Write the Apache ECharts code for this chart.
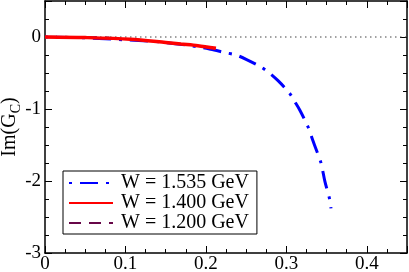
<!DOCTYPE html>
<html><head><meta charset="utf-8">
<script src="https://cdn.jsdelivr.net/npm/echarts@6/dist/echarts.min.js"></script>
<style>html,body{margin:0;padding:0;background:#fff}#c{width:409px;height:272px}</style>
</head><body><div id="c"></div>
<script>
var seriesNames = ['W = 1.535 GeV', 'W = 1.400 GeV', 'W = 1.200 GeV'];
var xW1535 = [0, 0.05, 0.1, 0.144, 0.19, 0.206, 0.225, 0.2375, 0.25, 0.269, 0.279, 0.29, 0.304, 0.31, 0.317, 0.327, 0.331, 0.335, 0.343, 0.348, 0.354, 0.3555];
var yW1535 = [0, -0.012, -0.04, -0.07, -0.135, -0.17, -0.22, -0.25, -0.31, -0.42, -0.5, -0.61, -0.78, -0.89, -1.02, -1.25, -1.375, -1.5, -1.745, -2.01, -2.26, -2.38];
var xW1400 = [0, 0.05, 0.106, 0.15, 0.169, 0.19, 0.2125];
var yW1400 = [0, -0.008, -0.03, -0.075, -0.097, -0.12, -0.157];
var xW1200 = [0, 0.03, 0.06, 0.08];
var yW1200 = [0, -0.002, -0.006, -0.012];
var xZero = [0, 0.45];
var yZero = [0, 0];
var xTicks = [0, 0.1, 0.2, 0.3, 0.4];
var yTicks = [-3, -2, -1, 0];

function pairs(xs, ys) { return xs.map(function (x, i) { return [x, ys[i]]; }); }
var FONT = 'Liberation Serif';
var X0 = 0, X1 = 0.45, Y0 = -3, Y1 = 0.5;

function xAx(pos, major, labels) {
  return {
    type: 'value', position: pos, min: X0, max: X1, interval: major ? 0.1 : 0.025,
    axisLine: { show: major, onZero: false, lineStyle: { color: '#000', width: 1.5 } },
    axisTick: { show: true, inside: true, length: major ? 7 : 4, lineStyle: { color: '#000', width: 1 } },
    axisLabel: { show: labels, margin: 2, color: '#000', fontFamily: FONT, fontSize: 19,
      formatter: function (v) { return xTicks.some(function (t) { return Math.abs(t - v) < 1e-9; }) ? String(+v.toFixed(1)) : ''; } },
    splitLine: { show: false }
  };
}
function yAx(pos, major, labels) {
  var a = {
    type: 'value', position: pos, min: Y0, max: Y1, interval: major ? 1 : 0.25,
    axisLine: { show: major, onZero: false, lineStyle: { color: '#000', width: 1.5 } },
    axisTick: { show: true, inside: true, length: major ? 7 : 4, lineStyle: { color: '#000', width: 1 } },
    axisLabel: { show: labels, margin: 4, color: '#000', fontFamily: FONT, fontSize: 19,
      formatter: function (v) { return yTicks.indexOf(Math.round(v)) >= 0 && Math.abs(v - Math.round(v)) < 1e-9 ? String(Math.round(v)) : ''; } },
    splitLine: { show: false }
  };
  if (labels) {
    a.name = 'Im(G{s|C})';
    a.nameLocation = 'middle';
    a.nameRotate = 90;
    a.nameGap = 22;
    a.nameMoveOverlap = false;
    a.nameTextStyle = { color: '#000', fontFamily: FONT, fontSize: 20,
      rich: { s: { fontFamily: FONT, fontSize: 14, verticalAlign: 'bottom', padding: [12, 0, 0, 0], color: '#000' } } };
  }
  return a;
}

var chart = echarts.init(document.getElementById('c'), null, { renderer: 'canvas' });
chart.setOption({
  animation: false,
  backgroundColor: '#fff',
  grid: { left: 45, right: 2, top: 1, bottom: 19, containLabel: false, outerBoundsMode: 'none' },
  xAxis: [xAx('bottom', true, true), xAx('bottom', false, false), xAx('top', true, false), xAx('top', false, false)],
  yAxis: [yAx('left', true, true), yAx('left', false, false), yAx('right', true, false), yAx('right', false, false)],
  legend: {
    left: 63, top: 171, orient: 'vertical',
    backgroundColor: '#fff', borderColor: '#000', borderWidth: 1, borderRadius: 0,
    padding: [2, 5, 1, 5], itemGap: 0, itemWidth: 44, itemHeight: 14,
    itemStyle: { opacity: 0 },
    textStyle: { fontFamily: FONT, fontSize: 20, lineHeight: 18, color: '#000', padding: [0, 3, 0, 3] },
    data: seriesNames
  },
  series: [
    { name: 'zero', type: 'line', data: pairs(xZero, yZero), symbol: 'none', silent: true,
      lineStyle: { color: '#444', width: 1.2, type: [1.5, 3.5] }, z: 1 },
    { name: seriesNames[2], type: 'line', data: pairs(xW1200, yW1200), symbol: 'none', smooth: 0.3,
      itemStyle: { color: '#670748' }, lineStyle: { color: '#670748', width: 2.5, type: [12, 8] }, z: 2 },
    { name: seriesNames[1], type: 'line', data: pairs(xW1400, yW1400), symbol: 'none', smooth: 0.3,
      itemStyle: { color: '#ff0000' }, lineStyle: { color: '#ff0000', width: 3.5, type: 'solid' }, z: 4 },
    { name: seriesNames[0], type: 'line', data: pairs(xW1535, yW1535), symbol: 'none', smooth: 0.3,
      itemStyle: { color: '#0000ff' }, lineStyle: { color: '#0000ff', width: 3, type: [3, 8, 18, 8] }, z: 3 }
  ]
});
</script></body></html>
